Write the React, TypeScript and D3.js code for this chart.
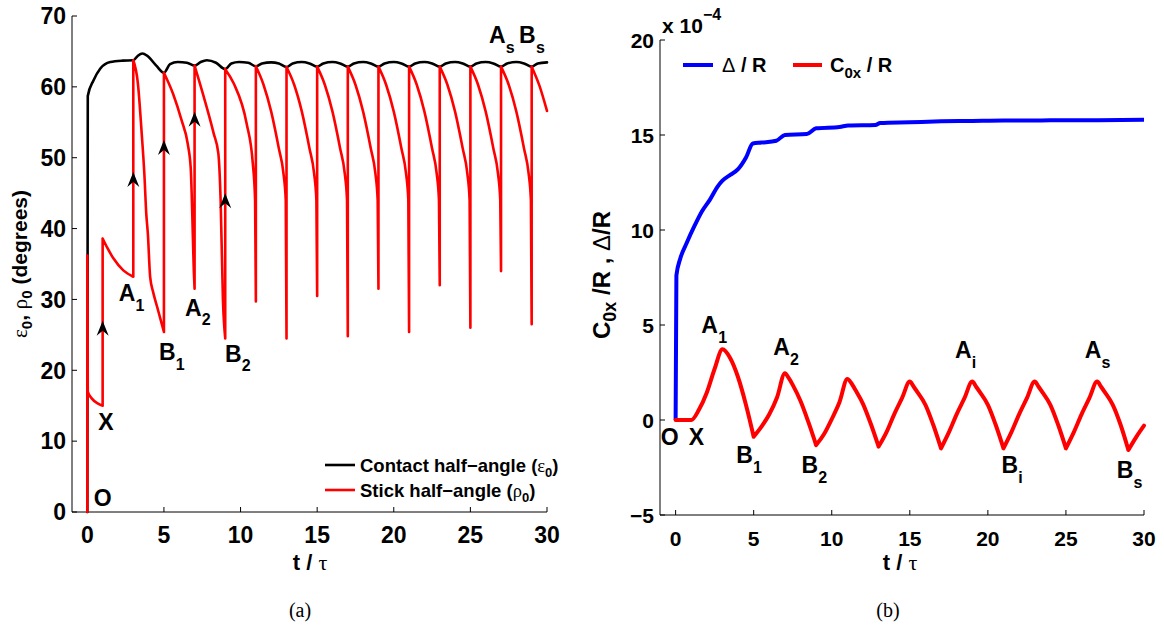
import * as d3 from 'd3';

const SANS = '"Liberation Sans", Arial, Helvetica, sans-serif';
const SERIF = '"Liberation Serif", "Times New Roman", serif';

// ---- data ----
const tTicks = [0, 5, 10, 15, 20, 25, 30];
const angleTicks = [0, 10, 20, 30, 40, 50, 60, 70];
const dispTicks = [-5, 0, 5, 10, 15, 20];

// contact half-angle eps0 (degrees) vs t/tau
const contactAngle: [number, number][] = [
  [0, 0], [0.03, 58.7], [0.4, 60.9], [0.85, 62.6], [1.5, 63.5], [2.3, 63.7], [3, 63.75],
  [3.3, 64.4], [3.6, 64.7], [3.9, 64.4], [4.5, 63], [5, 62],
  [5.4, 63.2], [5.9, 63.5], [6.5, 63.4], [7, 63],
  [7.4, 63.5], [7.8, 63.75], [8.4, 63.4], [9, 62.5],
  [9.4, 63.3], [9.9, 63.5], [10.5, 63.4], [11, 62.9],
  [11.4, 63.3], [12, 63.45], [12.5, 63.3], [13, 62.8],
  [13.4, 63.3], [14, 63.5], [14.5, 63.3], [15, 62.85],
  [15.4, 63.3], [16, 63.5], [16.5, 63.3], [17, 62.85],
  [17.4, 63.3], [18, 63.5], [18.5, 63.3], [19, 62.85],
  [19.4, 63.3], [20, 63.5], [20.5, 63.3], [21, 62.85],
  [21.4, 63.3], [22, 63.5], [22.5, 63.3], [23, 62.85],
  [23.4, 63.3], [24, 63.5], [24.5, 63.3], [25, 62.85],
  [25.4, 63.3], [26, 63.5], [26.5, 63.3], [27, 62.85],
  [27.4, 63.3], [28, 63.5], [28.5, 63.3], [29, 62.85],
  [29.4, 63.3], [30, 63.45],
];

// stick half-angle rho0 (degrees) vs t/tau
const stickAngle: [number, number][] = [
  [0, 0], [0, 36.2], [0.03, 17], [0.3, 16], [0.7, 15.3], [1, 15],
  [1, 38.6], [1.3, 37.3], [1.7, 35.8], [2.35, 34.1], [3, 33.2],
  [3, 63.75], [3.3, 60.5], [3.55, 53.4], [3.72, 47.8], [3.85, 42], [3.95, 39.3], [4.1, 33.2], [4.3, 31], [4.55, 29], [5, 25.4],
  [5, 62], [5.6, 59], [6.15, 55.3], [6.55, 52], [6.75, 48.5], [6.85, 42], [6.95, 34], [7, 31.5],
  [7, 63], [7.6, 58.6], [8.25, 53.4], [8.55, 50.6], [8.7, 44], [8.85, 30], [9, 24.5],
  [9, 62.5], [9.55, 60.5], [10.4, 54.8], [10.8, 49.2], [10.95, 44], [11, 29.7],
  [11, 62.9], [11.5, 60.3], [12, 56.5], [12.5, 51.3], [12.8, 47.8], [12.95, 44], [13, 24.5],
  [13, 62.8], [13.5, 60.3], [14, 56.5], [14.5, 51.3], [14.8, 47.8], [14.95, 44], [15, 30.5],
  [15, 62.85], [15.5, 60.3], [16, 56.5], [16.5, 51.3], [16.8, 47.8], [16.95, 44], [17, 24.8],
  [17, 62.85], [17.5, 60.3], [18, 56.5], [18.5, 51.3], [18.8, 47.8], [18.95, 44], [19, 31.5],
  [19, 62.85], [19.5, 60.3], [20, 56.5], [20.5, 51.3], [20.8, 47.8], [20.95, 44], [21, 25.4],
  [21, 62.85], [21.5, 60.3], [22, 56.5], [22.5, 51.3], [22.8, 47.8], [22.95, 44], [23, 32],
  [23, 62.85], [23.5, 60.3], [24, 56.5], [24.5, 51.3], [24.8, 47.8], [24.95, 44], [25, 26],
  [25, 62.85], [25.5, 60.3], [26, 56.5], [26.5, 51.3], [26.8, 47.8], [26.95, 44], [27, 34],
  [27, 62.85], [27.5, 60.3], [28, 56.5], [28.5, 51.3], [28.8, 47.8], [28.95, 44], [29, 26.5],
  [29, 62.85], [29.5, 60.2], [30, 56.6],
];

// arrowheads on the stick jumps: [t, tip value]
const jumpArrows: [number, number][] = [[1, 27], [3, 48], [5, 52.5], [7, 56.5], [9, 45]];

// Delta / R  (x 1e-4)
const deltaR: [number, number][] = [
  [0, 0], [0.05, 7.6], [0.3, 8.5], [0.7, 9.3], [1.2, 10.2], [1.7, 11.0], [2.2, 11.6],
  [2.7, 12.3], [3, 12.6], [3.5, 12.9], [4, 13.2], [4.5, 13.8], [4.95, 14.55],
  [5.5, 14.6], [6.45, 14.7], [7, 15.0], [8.4, 15.05], [9, 15.35], [10.5, 15.42],
  [11.05, 15.5], [12.8, 15.53], [13.1, 15.63], [15, 15.67], [17, 15.72], [19, 15.74],
  [21, 15.76], [23, 15.76], [25, 15.78], [27, 15.78], [30, 15.8],
];

// C0x / R  (x 1e-4)
const c0xR: [number, number][] = [
  [0, 0], [1, 0], [1.5, 0.55], [2, 1.45], [2.5, 2.7], [3, 3.72],
  [3.5, 3.25], [4, 2.25], [4.5, 0.82], [5, -0.88],
  [5.5, -0.35], [6, 0.3], [6.5, 1.2], [7, 2.46],
  [7.25, 2.2], [7.5, 1.85], [8, 1.0], [8.5, -0.1], [9, -1.32],
  [9.5, -0.75], [10, 0.05], [10.5, 0.95], [11, 2.16],
  [11.25, 1.95], [11.5, 1.6], [12, 0.85], [12.5, -0.2], [13, -1.4],
  [13.5, -0.65], [14, 0.3], [14.5, 1.15], [15, 2.02],
  [15.25, 1.75], [15.5, 1.45], [16, 0.8], [16.5, -0.25], [17, -1.49],
  [17.5, -0.65], [18, 0.3], [18.5, 1.15], [19, 2.02],
  [19.25, 1.75], [19.5, 1.45], [20, 0.8], [20.5, -0.25], [21, -1.49],
  [21.5, -0.65], [22, 0.3], [22.5, 1.15], [23, 2.02],
  [23.25, 1.75], [23.5, 1.45], [24, 0.8], [24.5, -0.25], [25, -1.49],
  [25.5, -0.65], [26, 0.3], [26.5, 1.15], [27, 2.02],
  [27.25, 1.75], [27.5, 1.45], [28, 0.8], [28.5, -0.25], [29, -1.58],
  [29.5, -0.9], [30, -0.3],
];

// point labels: main letter, subscript, centre of letter in data units
const leftLabels = [
  { main: 'O', sub: '', t: 1.0, v: 2.0 },
  { main: 'X', sub: '', t: 1.22, v: 12.7 },
  { main: 'A', sub: '1', t: 2.59, v: 30.9 },
  { main: 'B', sub: '1', t: 5.22, v: 22.6 },
  { main: 'A', sub: '2', t: 6.92, v: 28.9 },
  { main: 'B', sub: '2', t: 9.53, v: 22.4 },
  { main: 'A', sub: 's', t: 26.76, v: 67.3 },
  { main: 'B', sub: 's', t: 28.72, v: 67.3 },
];
const rightLabels = [
  { main: 'O', sub: '', t: -0.38, v: -0.88 },
  { main: 'X', sub: '', t: 1.33, v: -0.88 },
  { main: 'A', sub: '1', t: 2.18, v: 5.0 },
  { main: 'B', sub: '1', t: 4.42, v: -1.84 },
  { main: 'A', sub: '2', t: 6.78, v: 3.86 },
  { main: 'B', sub: '2', t: 8.59, v: -2.37 },
  { main: 'A', sub: 'i', t: 18.42, v: 3.68 },
  { main: 'B', sub: 'i', t: 21.4, v: -2.37 },
  { main: 'A', sub: 's', t: 26.73, v: 3.68 },
  { main: 'B', sub: 's', t: 28.78, v: -2.63 },
];

// ---- layout ----
const xA = d3.scaleLinear().domain([-1, 30]).range([72, 547]);
const yA = d3.scaleLinear().domain([0, 70]).range([512, 16]);
const xB = d3.scaleLinear().domain([-1, 30]).range([660, 1144]);
const yB = d3.scaleLinear().domain([-5, 20]).range([515, 40]);

const TICK = 5;

type Pt = [number, number];

// split a series where t repeats (vertical jumps) -> smooth runs + straight jumps
function splitJumps(data: Pt[]) {
  const runs: Pt[][] = [];
  const jumps: Pt[][] = [];
  let cur: Pt[] = [data[0]];
  for (let i = 1; i < data.length; i++) {
    if (data[i][0] === data[i - 1][0]) {
      runs.push(cur);
      jumps.push([data[i - 1], data[i]]);
      cur = [data[i]];
    } else cur.push(data[i]);
  }
  runs.push(cur);
  return { runs, jumps };
}

// split at local minima so troughs stay sharp, peaks rounded
function splitMinima(data: Pt[]) {
  const runs: Pt[][] = [];
  let cur: Pt[] = [data[0]];
  for (let i = 1; i < data.length; i++) {
    cur.push(data[i]);
    if (i < data.length - 1 && data[i][1] < data[i - 1][1] && data[i][1] < data[i + 1][1]) {
      runs.push(cur);
      cur = [data[i]];
    }
  }
  runs.push(cur);
  return runs;
}

function smoothPath(data: Pt[], x: any, y: any) {
  const smooth = d3.line<Pt>().x((d) => x(d[0])).y((d) => y(d[1])).curve(d3.curveMonotoneX);
  const straight = d3.line<Pt>().x((d) => x(d[0])).y((d) => y(d[1]));
  const { runs, jumps } = splitJumps(data);
  return runs.map((r) => (r.length > 1 ? smooth(r) : '')).join('') + jumps.map((j) => straight(j)).join('');
}

function PointLabel({ x, y, main, sub }: { x: number; y: number; main: string; sub: string }) {
  return (
    <g fontFamily={SANS} fontWeight="bold" fill="#000">
      <text x={x} y={y + 8.3} textAnchor="middle" fontSize={23}>{main}</text>
      {sub && <text x={x + 8.5} y={y + 18} fontSize={16}>{sub}</text>}
    </g>
  );
}

function Axes({ x, y, yTicks, size, tickFmt }: any) {
  const [x0, x1] = x.range();
  const [y0, y1] = y.range();
  return (
    <g fontFamily={SANS} fontWeight="bold" fontSize={size} fill="#000">
      <line x1={x0} x2={x0} y1={y0} y2={y1} stroke="#000" strokeWidth={1} />
      <line x1={x0} x2={x1} y1={y0} y2={y0} stroke="#000" strokeWidth={1} />
      {yTicks.map((v: number) => (
        <g key={'y' + v}>
          <line x1={x0} x2={x0 + TICK} y1={y(v)} y2={y(v)} stroke="#000" />
          <text x={x0 - 6} y={y(v) + size * 0.36} textAnchor="end">{tickFmt(v)}</text>
        </g>
      ))}
      {tTicks.map((t) => (
        <g key={'x' + t}>
          <line x1={x(t)} x2={x(t)} y1={y0} y2={y0 - TICK} stroke="#000" />
          <text x={x(t)} y={y0 + 31} textAnchor="middle">{t}</text>
        </g>
      ))}
    </g>
  );
}

function Arrowhead({ x, y }: { x: number; y: number }) {
  return <path d={`M${x},${y} L${x + 6},${y + 15} L${x},${y + 10} L${x - 6},${y + 15} Z`} fill="#000" />;
}

export default function App() {
  const smoothB = d3.line<Pt>().x((d) => xB(d[0])).y((d) => yB(d[1])).curve(d3.curveMonotoneX);
  const fmt = (v: number) => (v < 0 ? '\u2212' + Math.abs(v) : String(v));

  return (
    <svg width={1164} height={630} style={{ position: 'absolute', left: 0, top: 0, background: '#fff' }}>
      {/* ---------- panel (a) ---------- */}
      <Axes x={xA} y={yA} yTicks={angleTicks} size={23} tickFmt={fmt} />
      <path d={smoothPath(contactAngle, xA, yA)} fill="none" stroke="#000" strokeWidth={2.6} strokeLinejoin="round" strokeLinecap="round" />
      <path d={smoothPath(stickAngle, xA, yA)} fill="none" stroke="#ff0000" strokeWidth={2.6} strokeLinejoin="round" strokeLinecap="round" />
      {jumpArrows.map(([t, v], i) => <Arrowhead key={i} x={xA(t)} y={yA(v)} />)}
      {leftLabels.map((l, i) => <PointLabel key={i} x={xA(l.t)} y={yA(l.v)} main={l.main} sub={l.sub} />)}

      <g fontFamily={SANS} fontWeight="bold" fontSize={18.5}>
        <line x1={325} x2={355} y1={465} y2={465} stroke="#000" strokeWidth={2.6} />
        <text x={360} y={472}>Contact half−angle (<tspan fontFamily={SERIF} fontWeight="normal">ε</tspan><tspan dy={5} fontSize={13}>0</tspan><tspan dy={-5}>)</tspan></text>
        <line x1={325} x2={355} y1={490} y2={490} stroke="#ff0000" strokeWidth={2.6} />
        <text x={360} y={497}>Stick half−angle (<tspan fontFamily={SERIF} fontWeight="normal">ρ</tspan><tspan dy={5} fontSize={13}>0</tspan><tspan dy={-5}>)</tspan></text>
      </g>

      <text transform="translate(27,264) rotate(-90)" textAnchor="middle" fontFamily={SANS} fontWeight="bold" fontSize={21}>
        <tspan fontFamily={SERIF} fontWeight="normal">ε</tspan><tspan dy={5} fontSize={15}>0</tspan><tspan dy={-5}>, </tspan>
        <tspan fontFamily={SERIF} fontWeight="normal">ρ</tspan><tspan dy={5} fontSize={15}>0</tspan><tspan dy={-5}> (degrees)</tspan>
      </text>
      <text x={310} y={570} textAnchor="middle" fontFamily={SANS} fontWeight="bold" fontSize={22}>
        t / <tspan fontFamily={SERIF} fontWeight="normal">τ</tspan>
      </text>
      <text x={300} y={617} textAnchor="middle" fontFamily={SERIF} fontSize={20}>(a)</text>

      {/* ---------- panel (b) ---------- */}
      <Axes x={xB} y={yB} yTicks={dispTicks} size={21} tickFmt={fmt} />
      <path d={smoothB(deltaR) || ''} fill="none" stroke="#0000ff" strokeWidth={4} strokeLinejoin="round" />
      <path d={splitMinima(c0xR).map((r) => smoothB(r)).join('')} fill="none" stroke="#ff0000" strokeWidth={4} strokeLinejoin="round" strokeLinecap="round" />
      {rightLabels.map((l, i) => <PointLabel key={i} x={xB(l.t)} y={yB(l.v)} main={l.main} sub={l.sub} />)}

      <g fontFamily={SANS} fontWeight="bold" fontSize={20}>
        <line x1={683} x2={713} y1={65} y2={65} stroke="#0000ff" strokeWidth={4} />
        <text x={722} y={72}><tspan fontWeight="normal">Δ</tspan> / R</text>
        <line x1={793} x2={822} y1={65} y2={65} stroke="#ff0000" strokeWidth={4} />
        <text x={830} y={72}>C<tspan dy={6} fontSize={15}>0x</tspan><tspan dy={-6}> / R</tspan></text>
      </g>
      <text x={662} y={33} fontFamily={SANS} fontWeight="bold" fontSize={21}>
        x 10<tspan dy={-13} fontSize={16}>−4</tspan>
      </text>

      <text transform="translate(610,275) rotate(-90)" textAnchor="middle" fontFamily={SANS} fontWeight="bold" fontSize={24}>
        C<tspan dy={6} fontSize={18}>0x</tspan><tspan dy={-6}> /R , </tspan><tspan fontWeight="normal">Δ</tspan>/R
      </text>
      <text x={900} y={570} textAnchor="middle" fontFamily={SANS} fontWeight="bold" fontSize={22}>
        t / <tspan fontFamily={SERIF} fontWeight="normal">τ</tspan>
      </text>
      <text x={888} y={617} textAnchor="middle" fontFamily={SERIF} fontSize={20}>(b)</text>
    </svg>
  );
}
